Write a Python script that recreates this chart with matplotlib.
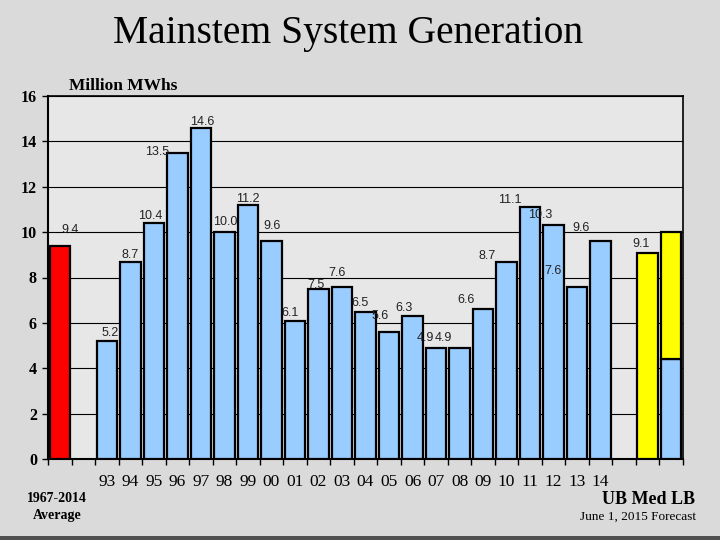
import matplotlib
matplotlib.use("Agg")
import matplotlib.pyplot as plt
from matplotlib.patches import Rectangle

# data
avg_value = 9.4
years = ["93", "94", "95", "96", "97", "98", "99", "00", "01", "02", "03",
         "04", "05", "06", "07", "08", "09", "10", "11", "12", "13", "14"]
year_values = [5.2, 8.7, 10.4, 13.5, 14.6, 10.0, 11.2, 9.6, 6.1, 7.5, 7.6,
               6.5, 5.6, 6.3, 4.9, 4.9, 6.6, 8.7, 11.1, 10.3, 7.6, 9.6]
forecast_value = 9.1
lb_base = 4.4
lb_top = 5.6

# label offsets (pixels) as placed on the original slide
label_dx = [10, 3, 0, -4, -20, 1, 1, 0, 1, -5, -2, -5, -5, -9, -9, -11, -16,
            -17, -19, -20, -13, -24, -20, -7]
label_dy = [16, 8, 7, 7, 1, 6, 10, 6, 15, 8, 4, 14, 9, 16, 8, 10, 10, 9, 6,
            7, 10, 16, 13, 9]

serif = "Liberation Serif"
narrow = ["Liberation Sans Narrow", "Liberation Sans", "DejaVu Sans"]
blue = "#99CCFF"

fig = plt.figure(figsize=(7.2, 5.4), dpi=100)
fig.patch.set_facecolor("#DADADA")
ax = fig.add_axes([48 / 720, 1 - 459 / 540, 635 / 720, 363 / 540])
ax.set_facecolor("#E7E7E7")

w = 0.87
kw = dict(width=w, edgecolor="black", linewidth=1.6, zorder=3)
ax.bar(0.5, avg_value, color="#FF0000", **kw)
year_x = [i + 2.5 for i in range(len(years))]
ax.bar(year_x, year_values, color=blue, **kw)
ax.bar(25.5, forecast_value, color="#FFFF00", **kw)
ax.bar(26.5, lb_base, color=blue, **kw)
ax.bar(26.5, lb_top, bottom=lb_base, color="#FFFF00", **kw)

label_x = [0.5] + year_x + [25.5]
label_v = [avg_value] + year_values + [forecast_value]
for x, v, dx, dy in zip(label_x, label_v, label_dx, label_dy):
    ax.annotate(f"{v:.1f}", (x, v), xytext=(dx * 0.72, dy * 0.72),
                textcoords="offset points", ha="center", va="center",
                fontsize=9, family=narrow, color="#222222", zorder=4)

ax.set_xlim(0, 27)
ax.set_ylim(0, 16)
ax.set_yticks(range(0, 17, 2))
ax.grid(axis="y", color="black", linewidth=0.8, zorder=1)
ax.set_xticks(range(0, 28))
ax.set_xticklabels([])
ax.set_xticks(year_x, minor=True)
ax.set_xticklabels(years, minor=True, family=serif, fontsize=12.5)
ax.tick_params(axis="x", which="major", length=4, width=1, direction="out")
ax.tick_params(axis="x", which="minor", length=0, pad=11)
ax.tick_params(axis="y", length=4, width=1, direction="out", pad=4)
for lab in ax.get_yticklabels():
    lab.set_family(serif)
    lab.set_fontweight("bold")
    lab.set_fontsize(11.5)
for side in ["left", "bottom", "right", "top"]:
    ax.spines[side].set_linewidth(1.5 if side in ("left", "bottom") else 1.2)

fig.text(348 / 720, 1 - 33 / 540, "Mainstem System Generation", ha="center",
         va="center", family=serif, fontsize=28.5)
fig.text(123 / 720, 1 - 86 / 540, "Million MWhs", ha="center", va="center",
         family=serif, fontsize=12.5, fontweight="bold")
fig.text(57 / 720, 1 - 498 / 540, "1967-2014", ha="center", va="center",
         family=serif, fontsize=10, fontweight="bold")
fig.text(57 / 720, 1 - 515 / 540, "Average", ha="center", va="center",
         family=serif, fontsize=10, fontweight="bold")
fig.text(648 / 720, 1 - 500 / 540, "UB Med LB", ha="center", va="center",
         family=serif, fontsize=13, fontweight="bold")
fig.text(638 / 720, 1 - 517 / 540, "June 1, 2015 Forecast", ha="center",
         va="center", family=serif, fontsize=9.5)
fig.patches.append(Rectangle((0, 0), 1, 4 / 540, transform=fig.transFigure,
                             facecolor="#505050", edgecolor="none"))

fig.savefig("out.png", dpi=100, facecolor=fig.get_facecolor())
